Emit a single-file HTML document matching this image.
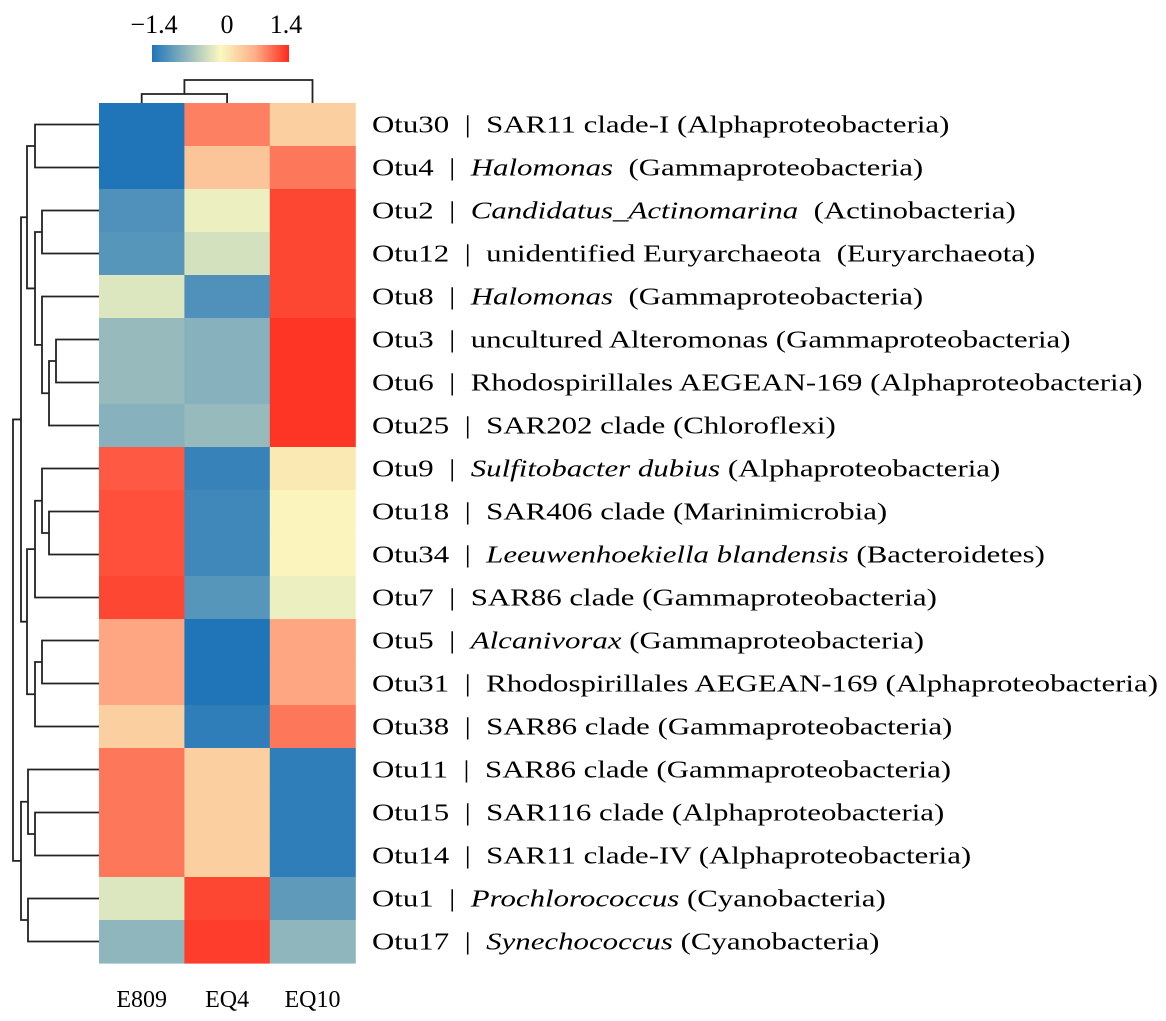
<!DOCTYPE html>
<html><head><meta charset="utf-8"><style>
html,body{margin:0;padding:0;background:#fff;}
svg{display:block;font-family:"Liberation Serif","Times New Roman",serif;}
#labels text{white-space:pre;}
</style></head><body>
<svg id="chart" width="1166" height="1021" viewBox="0 0 1166 1021">
<defs><linearGradient id="cb" x1="0" x2="1" y1="0" y2="0">
<stop offset="0" stop-color="#1f75b8"/><stop offset="0.25" stop-color="#8fb6bd"/><stop offset="0.5" stop-color="#fbf9c0"/><stop offset="0.75" stop-color="#fdb089"/><stop offset="1" stop-color="#fe2a1c"/></linearGradient></defs>
<g>
<rect x="152" y="45" width="137" height="17" fill="url(#cb)"/>
<text x="154" y="33" font-size="26" text-anchor="middle">−1.4</text>
<text x="227" y="33" font-size="26" text-anchor="middle">0</text>
<text x="286" y="33" font-size="26" text-anchor="middle">1.4</text>
</g>
<g id="cells"></g>
<g id="labels"></g>
<g id="dend" fill="none" stroke="#222" stroke-width="1.8"></g>
<g id="cols"></g>
</svg>
<script>
const columns = ["E809","EQ4","EQ10"];
const otus = ["Otu30","Otu4","Otu2","Otu12","Otu8","Otu3","Otu6","Otu25","Otu9","Otu18","Otu34","Otu7","Otu5","Otu31","Otu38","Otu11","Otu15","Otu14","Otu1","Otu17"];
const taxa = [
 [["SAR11 clade-I (Alphaproteobacteria)",0]],
 [["Halomonas",1],["  (Gammaproteobacteria)",0]],
 [["Candidatus_Actinomarina",1],["  (Actinobacteria)",0]],
 [["unidentified Euryarchaeota  (Euryarchaeota)",0]],
 [["Halomonas",1],["  (Gammaproteobacteria)",0]],
 [["uncultured Alteromonas (Gammaproteobacteria)",0]],
 [["Rhodospirillales AEGEAN-169 (Alphaproteobacteria)",0]],
 [["SAR202 clade (Chloroflexi)",0]],
 [["Sulfitobacter dubius",1],[" (Alphaproteobacteria)",0]],
 [["SAR406 clade (Marinimicrobia)",0]],
 [["Leeuwenhoekiella blandensis",1],[" (Bacteroidetes)",0]],
 [["SAR86 clade (Gammaproteobacteria)",0]],
 [["Alcanivorax",1],[" (Gammaproteobacteria)",0]],
 [["Rhodospirillales AEGEAN-169 (Alphaproteobacteria)",0]],
 [["SAR86 clade (Gammaproteobacteria)",0]],
 [["SAR86 clade (Gammaproteobacteria)",0]],
 [["SAR116 clade (Alphaproteobacteria)",0]],
 [["SAR11 clade-IV (Alphaproteobacteria)",0]],
 [["Prochlorococcus",1],[" (Cyanobacteria)",0]],
 [["Synechococcus",1],[" (Cyanobacteria)",0]]
];
const valE809 = [-1.4,-1.4,-1.1,-1.05,-0.2,-0.65,-0.65,-0.75,1.15,1.2,1.2,1.25,0.75,0.75,0.4,1.0,1.0,1.0,-0.2,-0.7];
const valEQ4  = [0.95,0.5,-0.1,-0.25,-1.1,-0.75,-0.75,-0.65,-1.25,-1.2,-1.2,-1.05,-1.4,-1.4,-1.3,0.4,0.4,0.4,1.25,1.3];
const valEQ10 = [0.4,1.0,1.25,1.25,1.25,1.35,1.35,1.35,0.15,0.05,0.05,-0.1,0.75,0.75,1.0,-1.3,-1.3,-1.3,-1.0,-0.7];
const rowMerges = [[0,1,35],[2,3,42],[5,6,56],[22,7,49],[4,23,42],[21,24,35],[20,25,27],
 [9,10,49],[8,27,42],[28,11,35],[12,13,42],[30,14,35],[29,31,27],[26,32,21],
 [16,17,35],[15,34,28],[18,19,28],[35,36,21],[33,37,13]];
const colMerges = [[0,1,94],[3,2,80]];

const X0=99, CW=85.4, Y0=103, RH=43;
const xs = c => X0 + c*CW;
const ys = r => Y0 + r*RH;
const stops=[[-1.4,[31,117,184]],[-0.7,[143,182,189]],[0,[251,249,192]],[0.7,[253,176,137]],[1.4,[254,42,28]]];
function color(v){v=Math.max(-1.4,Math.min(1.4,v));for(let i=0;i<4;i++){const a=stops[i],b=stops[i+1];if(v<=b[0]){const t=(v-a[0])/(b[0]-a[0]);return 'rgb('+a[1].map((q,k)=>Math.round(q+(b[1][k]-q)*t)).join(',')+')';}}}
const NS='http://www.w3.org/2000/svg';
function mk(t,a,p){const e=document.createElementNS(NS,t);for(const k in a)e.setAttribute(k,a[k]);p.appendChild(e);return e;}
const cells=document.getElementById('cells');
const series=[valE809,valEQ4,valEQ10];
series.forEach((arr,c)=>arr.forEach((v,r)=>{
 const e=mk('rect',{x:xs(c),y:ys(r),width:CW+0.6,height:RH+0.6,fill:color(v)},cells);
 
 
}));
const lab=document.getElementById('labels');
const texts=[];
otus.forEach((o,r)=>{
 const t=mk('text',{x:372,y:ys(r)+RH/2+8,'font-size':24},lab);
 
 
 const s=mk('tspan',{},t);s.textContent=o+'  |  ';
 taxa[r].forEach(p=>{const q=mk('tspan',p[1]?{'font-style':'italic'}:{},t);q.textContent=p[0];});
 texts.push(t);
});
const w13=texts[13].getComputedTextLength();
const f=786/w13;
if(f>1.01){texts.forEach(t=>{const w=t.getComputedTextLength();t.setAttribute('textLength',(w*f).toFixed(1));t.setAttribute('lengthAdjust','spacingAndGlyphs');});}
const cl=document.getElementById('cols');
columns.forEach((c,i)=>{
 const t=mk('text',{x:xs(i)+CW/2,y:1007,'font-size':24,'text-anchor':'middle'},cl);
 
 
 t.textContent=c;
});
const dend=document.getElementById('dend');
const pos={},hx={};
for(let i=0;i<20;i++){pos[i]=ys(i)+RH/2;hx[i]=X0;}
rowMerges.forEach((m,k)=>{
 const id=20+k,[a,b,h]=m;
 const p=mk('path',{d:`M${hx[a]},${pos[a]}H${h}V${pos[b]}H${hx[b]}`},dend);
 
 
 pos[id]=(pos[a]+pos[b])/2;hx[id]=h;
});
const cp={},cy={};
for(let i=0;i<3;i++){cp[i]=xs(i)+CW/2;cy[i]=Y0;}
colMerges.forEach((m,k)=>{
 const id=3+k,[a,b,h]=m;
 const p=mk('path',{d:`M${cp[a]},${cy[a]}V${h}H${cp[b]}V${cy[b]}`},dend);
 
 
 cp[id]=(cp[a]+cp[b])/2;cy[id]=h;
});
</script>
</body></html>
